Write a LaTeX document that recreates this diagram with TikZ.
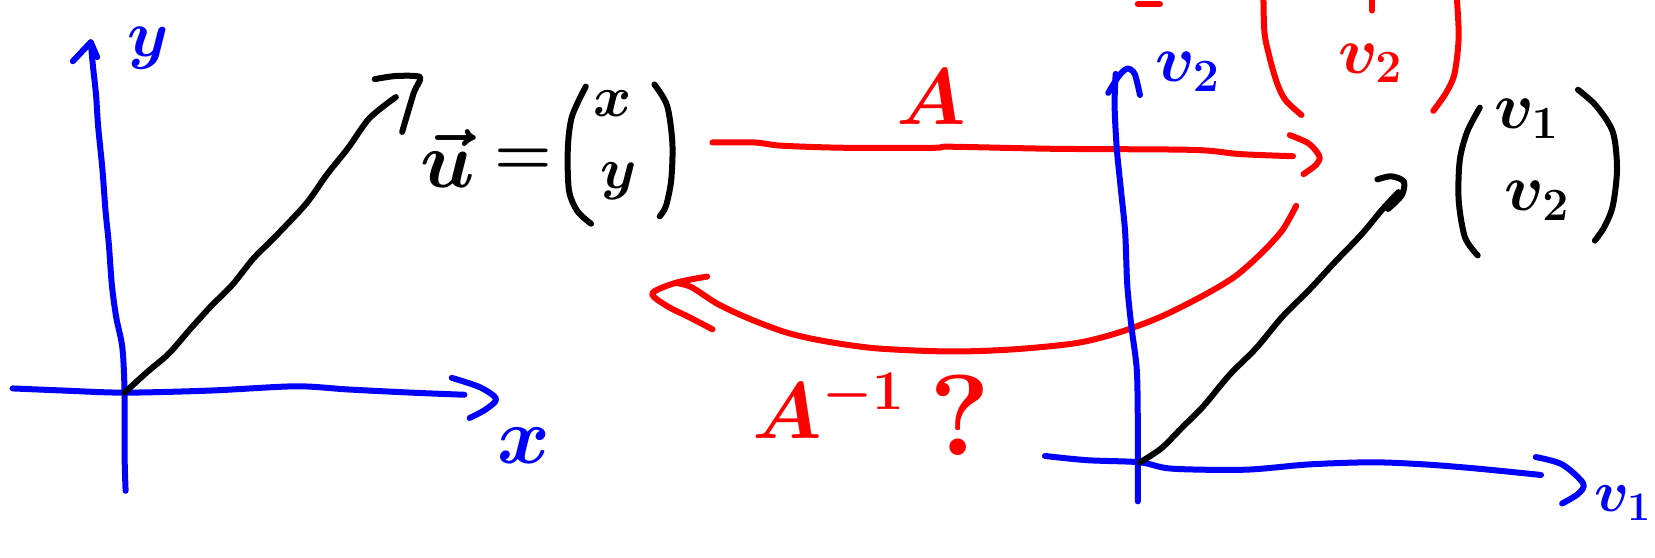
\RequirePackage{fix-cm}
\documentclass[tikz,border=0pt]{standalone}
\usepackage{amsmath}
\begin{document}
\begin{tikzpicture}[x=1.0555pt,y=-1.0555pt, line cap=round, line join=round,
  stroke/.style={line width=6pt},
  blueln/.style={stroke, draw=blue},
  redln/.style={stroke, draw=red},
  blackln/.style={stroke, draw=black},
  lbl/.style={inner sep=0pt, font=\fontsize{80}{90}\selectfont\boldmath},
  sml/.style={inner sep=0pt, font=\fontsize{66}{76}\selectfont\boldmath},
  tny/.style={inner sep=0pt, font=\fontsize{58}{66}\selectfont\boldmath}]
\useasboundingbox (0,0) rectangle (1568,528);
\clip (0,0) rectangle (1568,528);

% ---------- left coordinate system ----------
\coordinate (O1) at (118,372);
\coordinate (Ytip) at (86,40);
\coordinate (Xtip) at (470,378);
% y axis
\draw[blueln] plot[smooth] coordinates {(119,465) (118,430) (118,372) (116,330) (110,300) (106,270) (103,230) (100,200) (97,160) (93,120) (91,90) (88,62) (Ytip)};
\draw[blueln] (69,58) -- (Ytip) -- (92,54);
% x axis
\draw[blueln] plot[smooth] coordinates {(12,368) (60,370) (O1) (200,370) (280,366) (330,369) (390,372) (440,374)};
\draw[blueln] plot[smooth] coordinates {(428,358) (455,367) (Xtip) (460,388) (445,396)};
\node[sml, text=blue] (ylab) at (140,46) {$y$};
\node[lbl, text=blue] (xlab) at (496,422) {$x$};
% vector u
\draw[blackln] plot[smooth] coordinates {(O1) (140,352) (160,335) (180,312) (200,290) (220,270) (240,245) (260,225) (290,193) (310,165) (330,140) (350,112) (375,92)};
\draw[blackln] plot[smooth, tension=0.4] coordinates {(355,75) (375,72) (398,73) (392,88) (381,125)};
\node[lbl, anchor=base] (ulab) at (424,178) {$\vec{u}$};
\node[sml] (eq) at (496,153) {$=$};
\node[tny] (ux) at (580,98) {$x$};
\node[tny] (uy) at (586,172) {$y$};
\draw[blackln] plot[smooth] coordinates {(555,82) (542,110) (538,140) (539,180) (547,200) (560,212)};
\draw[blackln] plot[smooth] coordinates {(620,80) (632,100) (637,135) (636,170) (631,195) (625,205)};

% ---------- red maps ----------
\coordinate (Astart) at (675,135);
\coordinate (Atip) at (1250,148);
\draw[redln] plot[smooth] coordinates {(Astart) (715,135) (740,138) (800,140) (885,140) (900,139) (1000,141) (1130,142) (1175,146) (1225,148)};
\draw[redln] plot[smooth, tension=0.5] coordinates {(1222,128) (1240,136) (Atip) (1247,156) (1235,165)};
\node[lbl, text=red] (Alab) at (882,92) {$A$};

\coordinate (Bstart) at (1228,195);
\coordinate (Btip) at (618,278);
\draw[redln] plot[smooth] coordinates {(Bstart) (1215,218) (1195,240) (1170,262) (1140,280) (1100,300) (1060,315) (1020,325) (960,331) (900,333) (830,330) (780,323) (745,315) (710,302) (680,288) (655,272) (640,268)};
\draw[redln] plot[smooth, tension=0.5] coordinates {(670,262) (640,268) (Btip) (632,290) (652,300) (675,312)};
\node[lbl, text=red] (Ainv) at (785,385) {$A^{-1}$};
\node[inner sep=0pt, text=red, font=\fontsize{115}{125}\selectfont\bfseries] (qm) at (910,393) {?};

% ---------- right coordinate system ----------
\coordinate (O2) at (1080,438);
\coordinate (V2tip) at (1068,65);
\coordinate (V1tip) at (1500,458);
\coordinate (Wtip) at (1330,172);
\draw[blueln] plot[smooth] coordinates {(1078,475) (1078,440) (1078,400) (1077,350) (1072,310) (1068,270) (1066,220) (1062,180) (1058,140) (1056,100) (1057,70)};
\draw[blueln] plot[smooth, tension=0.5] coordinates {(1050,88) (1060,72) (V2tip) (1075,70) (1080,90)};
\draw[blueln] plot[smooth] coordinates {(990,432) (1030,436) (O2) (1110,444) (1180,445) (1240,440) (1300,438) (1350,440) (1400,444) (1460,450)};
\draw[blueln] plot[smooth, tension=0.5] coordinates {(1455,433) (1480,440) (V1tip) (1495,468) (1480,477)};
\node[sml, text=blue] (v2lab) at (1125,68) {$v_2$};
\node[tny, text=blue, anchor=north east] (v1lab) at (1564,460) {$v_1$};
% vector v
\draw[blackln] plot[smooth] coordinates {(O2) (1100,425) (1120,405) (1140,385) (1165,355) (1190,330) (1215,300) (1240,275) (1265,248) (1290,222) (1310,198) (1325,182)};
\draw[blackln] plot[smooth, tension=0.5] coordinates {(1305,170) (1318,167) (Wtip) (1328,185) (1315,198)};
\node[sml] (vv1) at (1446,113) {$v_1$};
\node[sml] (vv2) at (1456,190) {$v_2$};
\draw[blackln] plot[smooth] coordinates {(1402,102) (1390,125) (1383,152) (1382,190) (1388,225) (1400,242)};
\draw[blackln] plot[smooth] coordinates {(1495,85) (1512,100) (1528,125) (1532,160) (1528,195) (1520,215) (1511,228)};

% ---------- red vector at the top (cut off) ----------
\draw[redln] plot[smooth] coordinates {(1197,-5) (1198,31) (1203,55) (1210,79) (1218,95) (1233,109)};
\draw[redln] plot[smooth] coordinates {(1380,-5) (1382,35) (1378,70) (1370,88) (1358,105)};
\node[sml, text=red] (rv2) at (1298,60) {$v_2$};
\draw[redln] (1300,-2) -- (1300,10);
\draw[redln] (1078,4) -- (1099,4);
\end{tikzpicture}
\end{document}
